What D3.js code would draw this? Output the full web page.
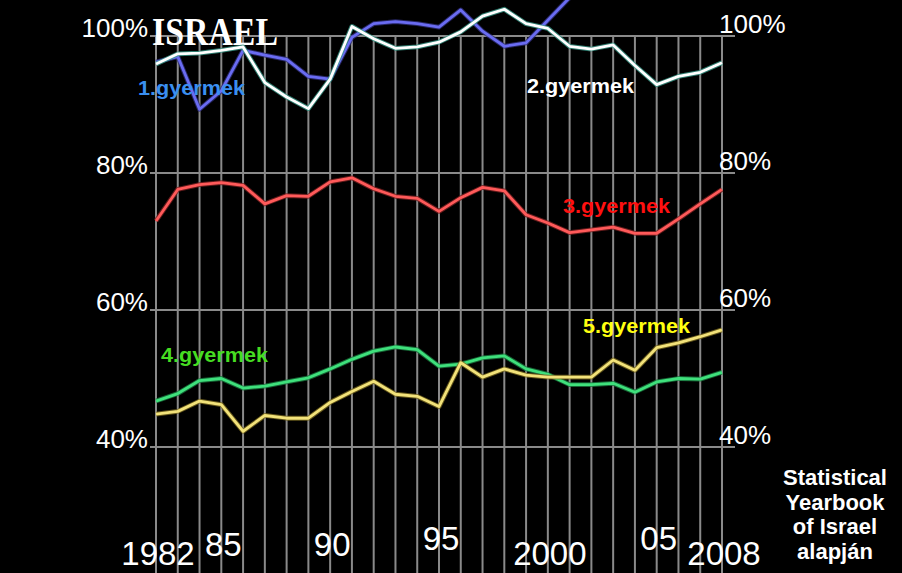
<!DOCTYPE html>
<html>
<head>
<meta charset="utf-8">
<script src="https://cdn.jsdelivr.net/npm/d3@7"></script>
<style>
  html, body { margin: 0; padding: 0; background: #000; }
  svg { display: block; }
</style>
</head>
<body>
<svg id="chart" width="902" height="573"></svg>
<script>
// ---- data ----
const years = [1982,1983,1984,1985,1986,1987,1988,1989,1990,1991,1992,1993,1994,1995,
               1996,1997,1998,1999,2000,2001,2002,2003,2004,2005,2006,2007,2008];
const child1 = [96.2,97.0,89.3,92.0,97.9,97.2,96.6,94.1,93.7,99.8,101.8,102.1,101.8,101.3,
                103.8,100.7,98.5,99.0,102.3,105.6,null,null,null,null,null,null,null];
const child2 = [95.9,97.4,97.5,97.9,98.4,93.2,91.1,89.4,93.7,101.4,99.6,98.2,98.4,99.1,
                100.6,102.9,103.9,101.8,101.1,98.5,98.1,98.7,95.7,92.9,94.1,94.7,96.1];
const child3 = [73.0,77.6,78.3,78.6,78.2,75.5,76.7,76.6,78.7,79.3,77.7,76.6,76.3,74.4,
                76.4,77.9,77.4,73.9,72.7,71.3,71.7,72.1,71.2,71.2,73.3,75.5,77.6];
const child4 = [46.7,47.8,49.7,50.0,48.6,48.9,49.5,50.1,51.4,52.8,54.0,54.6,54.2,51.8,
                52.1,53.0,53.3,51.4,50.6,49.1,49.1,49.3,48.0,49.5,50.0,49.9,50.9];
const child5 = [44.8,45.2,46.7,46.2,42.3,44.6,44.2,44.2,46.5,48.1,49.6,47.7,47.4,45.9,
                52.3,50.2,51.4,50.5,50.2,50.2,50.2,52.7,51.2,54.5,55.2,56.1,57.1];
const seriesNames = ["1.gyermek","2.gyermek","3.gyermek","4.gyermek","5.gyermek"];
const yTicks = [40, 60, 80, 100];
const xTickYears = [1982, 1985, 1990, 1995, 2000, 2005, 2008];
const xTickLabels = ["1982", "85", "90", "95", "2000", "05", "2008"];
const sourceLines = ["Statistical", "Yearbook", "of Israel", "alapján"];

// ---- scales ----
const svg = d3.select("#chart");
const x = d3.scaleLinear().domain([1982, 2008]).range([156, 722]);
const y = d3.scaleLinear().domain([40, 100]).range([447, 36]);

// ---- grid ----
const grid = svg.append("g").attr("stroke", "#8a8a8a").attr("stroke-width", 2);
grid.selectAll("line.v").data(years).join("line").attr("class", "v")
  .attr("x1", d => x(d)).attr("x2", d => x(d))
  .attr("y1", y(100)).attr("y2", 573);
grid.selectAll("line.h").data(yTicks).join("line").attr("class", "h")
  .attr("x1", 150).attr("x2", 735)
  .attr("y1", d => y(d)).attr("y2", d => y(d));

// ---- y labels ----
const lab = svg.append("g").attr("fill", "#fff")
  .attr("font-family", "Liberation Sans, Arial, sans-serif").attr("font-size", 26);
lab.selectAll("text.l").data(yTicks).join("text").attr("class", "l")
  .attr("x", 148).attr("y", d => y(d) + 1).attr("text-anchor", "end")
  .text(d => d + "%");
lab.selectAll("text.r").data(yTicks).join("text").attr("class", "r")
  .attr("x", 719).attr("y", d => y(d) - 3)
  .text(d => d + "%");

// ---- x labels ----
const xl = svg.append("g").attr("fill", "#fff")
  .attr("font-family", "Liberation Sans, Arial, sans-serif").attr("font-size", 33)
  .attr("text-anchor", "middle");
xl.selectAll("text").data(xTickYears).join("text")
  .attr("x", d => x(d) + 2)
  .attr("y", (d, i) => xTickLabels[i].length === 4 ? 565 : (d < 1993 ? 556 : 550))
  .text((d, i) => xTickLabels[i]);

// ---- ISRAEL logo ----
svg.append("text").attr("x", 152).attr("y", 45)
  .attr("font-family", "Liberation Serif, Times New Roman, serif")
  .attr("font-weight", "bold").attr("font-size", 40)
  .attr("textLength", 126).attr("lengthAdjust", "spacingAndGlyphs")
  .attr("fill", "#fff").text("ISRAEL");

// ---- lines ----
const line = d3.line().defined(d => d[1] != null)
  .x(d => x(d[0])).y(d => y(d[1]));
const series = [
  {vals: child4, color: "#3fe07c", glow: "#1a7a40"},
  {vals: child5, color: "#f2e27a", glow: "#7a6a20"},
  {vals: child3, color: "#ff5a5a", glow: "#7a2020"},
  {vals: child1, color: "#6a6cf2", glow: "#30307a"},
  {vals: child2, color: "#ffffff", glow: "#3a9a8a"}
];
series.forEach(s => {
  const pts = years.map((yr, i) => [yr, s.vals[i]]);
  svg.append("path").datum(pts).attr("d", line)
    .attr("fill", "none").attr("stroke", s.glow).attr("stroke-width", 4.8)
    .attr("stroke-linejoin", "round").attr("opacity", 0.8);
  svg.append("path").datum(pts).attr("d", line)
    .attr("fill", "none").attr("stroke", s.color).attr("stroke-width", 2.8)
    .attr("stroke-linejoin", "round");
});

// ---- series labels ----
const sl = svg.append("g").attr("font-family", "Liberation Sans, Arial, sans-serif")
  .attr("font-weight", "bold").attr("font-size", 21);
const labelPos = [
  {x: 138, y: 95, c: "#3a8ff0"},
  {x: 527, y: 93, c: "#ffffff"},
  {x: 563, y: 213, c: "#ff1010"},
  {x: 161, y: 362, c: "#46dd22"},
  {x: 583, y: 333, c: "#ffff10"}
];
sl.selectAll("text").data(seriesNames).join("text")
  .attr("x", (d, i) => labelPos[i].x).attr("y", (d, i) => labelPos[i].y)
  .attr("fill", (d, i) => labelPos[i].c)
  .attr("textLength", 107).attr("lengthAdjust", "spacingAndGlyphs")
  .text(d => d);

// ---- source note ----
svg.append("g").attr("font-family", "Liberation Sans, Arial, sans-serif")
  .attr("font-weight", "bold").attr("font-size", 22).attr("fill", "#fff")
  .attr("text-anchor", "middle")
  .selectAll("text").data(sourceLines).join("text")
  .attr("x", 835).attr("y", (d, i) => 485 + i * 24.5)
  .text(d => d);
</script>
</body>
</html>
